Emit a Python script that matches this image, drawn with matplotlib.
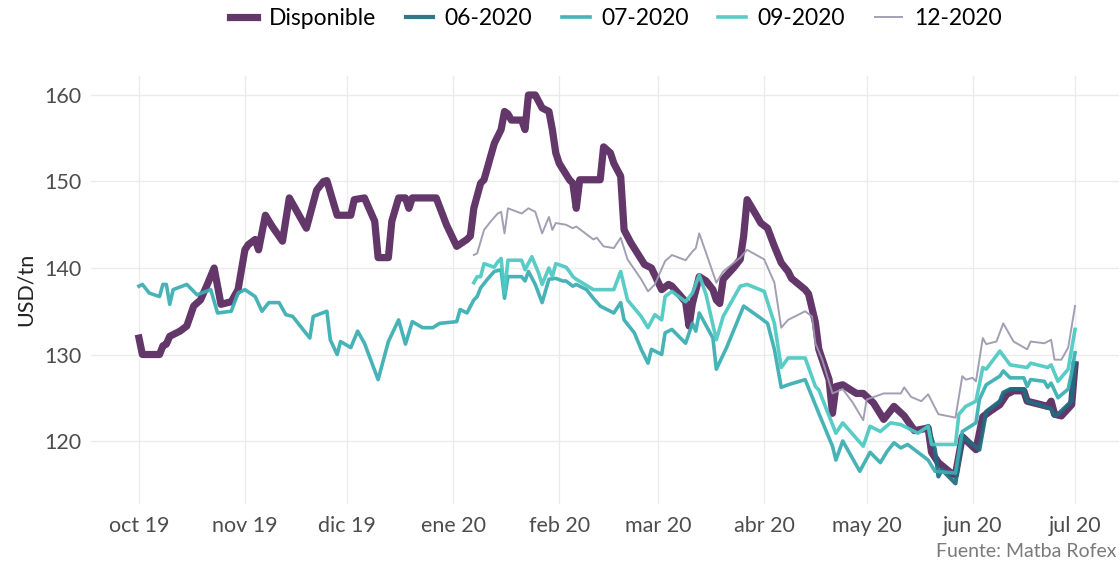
import pandas as pd
import matplotlib
matplotlib.use('Agg')
import matplotlib.pyplot as plt

# ---- datos (USD/tn) ----
disp_fechas = [
    "2019-10-01", "2019-10-02", "2019-10-07", "2019-10-08", "2019-10-09", "2019-10-10",
    "2019-10-13", "2019-10-15", "2019-10-17", "2019-10-19", "2019-10-21", "2019-10-23",
    "2019-10-25", "2019-10-28", "2019-10-30", "2019-11-01", "2019-11-02", "2019-11-04",
    "2019-11-05", "2019-11-07", "2019-11-09", "2019-11-12", "2019-11-14", "2019-11-19",
    "2019-11-22", "2019-11-24", "2019-11-25", "2019-11-28", "2019-12-02", "2019-12-03",
    "2019-12-06", "2019-12-09", "2019-12-10", "2019-12-13", "2019-12-14", "2019-12-16",
    "2019-12-18", "2019-12-19", "2019-12-20", "2019-12-27", "2019-12-30", "2020-01-02",
    "2020-01-05", "2020-01-06", "2020-01-07", "2020-01-09", "2020-01-10", "2020-01-13",
    "2020-01-15", "2020-01-16", "2020-01-17", "2020-01-18", "2020-01-21", "2020-01-22",
    "2020-01-23", "2020-01-25", "2020-01-27", "2020-01-29", "2020-01-30", "2020-01-31",
    "2020-02-01", "2020-02-04", "2020-02-05", "2020-02-06", "2020-02-07", "2020-02-13",
    "2020-02-14", "2020-02-16", "2020-02-17", "2020-02-19", "2020-02-20", "2020-02-22",
    "2020-02-26", "2020-02-28", "2020-03-02", "2020-03-04", "2020-03-05", "2020-03-09",
    "2020-03-10", "2020-03-11", "2020-03-13", "2020-03-15", "2020-03-17", "2020-03-18",
    "2020-03-19", "2020-03-20", "2020-03-23", "2020-03-25", "2020-03-26", "2020-03-27",
    "2020-03-30", "2020-03-31", "2020-04-02", "2020-04-04", "2020-04-06", "2020-04-08",
    "2020-04-09", "2020-04-13", "2020-04-14", "2020-04-16", "2020-04-17", "2020-04-20",
    "2020-04-21", "2020-04-22", "2020-04-24", "2020-04-28", "2020-04-30", "2020-05-03",
    "2020-05-06", "2020-05-09", "2020-05-12", "2020-05-15", "2020-05-19", "2020-05-20",
    "2020-05-22", "2020-05-26", "2020-05-27", "2020-05-29", "2020-06-02", "2020-06-04",
    "2020-06-06", "2020-06-09", "2020-06-11", "2020-06-13", "2020-06-16", "2020-06-17",
    "2020-06-19", "2020-06-23", "2020-06-24", "2020-06-25", "2020-06-27", "2020-06-30",
    "2020-07-01",
]
disp_valores = [
    131.9, 130.0, 130.0, 131.0, 131.2, 132.1,
    132.7, 133.3, 135.6, 136.3, 138.1, 140.0,
    135.8, 136.1, 137.5, 142.1, 142.7, 143.3,
    142.1, 146.1, 144.8, 143.1, 148.1, 144.6,
    149.0, 150.0, 150.1, 146.1, 146.1, 147.9,
    148.1, 145.4, 141.2, 141.2, 145.4, 148.1,
    148.1, 146.9, 148.1, 148.1, 145.0, 142.5,
    143.3, 143.7, 146.9, 149.8, 150.2, 154.4,
    156.0, 158.1, 157.8, 157.1, 157.1, 156.0,
    160.0, 160.0, 158.5, 158.1, 156.0, 153.3,
    152.1, 150.2, 149.8, 146.9, 150.2, 150.2,
    154.0, 153.3, 152.1, 150.6, 144.4, 142.9,
    140.4, 140.0, 137.5, 138.1, 137.9, 136.1,
    133.3, 135.9, 139.0, 138.5, 137.5, 136.3,
    135.9, 138.7, 140.0, 141.0, 143.7, 147.9,
    145.9, 145.2, 144.6, 142.5, 140.6, 139.6,
    138.8, 137.5, 137.0, 133.7, 130.6, 127.1,
    123.2, 126.3, 126.5, 125.5, 125.5, 124.4,
    122.5, 124.0, 122.9, 121.2, 121.5, 118.7,
    117.5, 116.2, 116.1, 120.5, 119.0, 122.8,
    123.4, 124.2, 125.4, 125.8, 125.8, 124.6,
    124.4, 124.0, 124.6, 123.1, 122.9, 124.2,
    128.8,
]

jun_fechas = [
    "2020-05-19", "2020-05-21", "2020-05-22", "2020-05-23", "2020-05-27", "2020-05-29",
    "2020-06-03", "2020-06-05", "2020-06-09", "2020-06-10", "2020-06-12", "2020-06-16",
    "2020-06-17", "2020-06-19", "2020-06-24", "2020-06-25", "2020-06-26", "2020-06-30",
    "2020-07-01",
]
jun_valores = [
    121.7, 119.0, 115.9, 116.7, 115.1, 120.5,
    119.0, 123.4, 124.6, 125.6, 126.0, 126.0,
    124.6, 124.4, 123.7, 122.9, 123.1, 124.6,
    129.0,
]

jul_fechas = [
    "2019-10-01", "2019-10-02", "2019-10-04", "2019-10-07", "2019-10-08", "2019-10-09",
    "2019-10-10", "2019-10-11", "2019-10-15", "2019-10-18", "2019-10-22", "2019-10-24",
    "2019-10-28", "2019-10-30", "2019-11-01", "2019-11-04", "2019-11-06", "2019-11-08",
    "2019-11-11", "2019-11-13", "2019-11-15", "2019-11-20", "2019-11-21", "2019-11-25",
    "2019-11-26", "2019-11-28", "2019-11-29", "2019-12-02", "2019-12-04", "2019-12-06",
    "2019-12-10", "2019-12-13", "2019-12-16", "2019-12-18", "2019-12-20", "2019-12-23",
    "2019-12-26", "2019-12-28", "2020-01-02", "2020-01-03", "2020-01-05", "2020-01-07",
    "2020-01-08", "2020-01-09", "2020-01-11", "2020-01-13", "2020-01-15", "2020-01-16",
    "2020-01-17", "2020-01-21", "2020-01-22", "2020-01-23", "2020-01-25", "2020-01-27",
    "2020-01-29", "2020-01-31", "2020-02-02", "2020-02-03", "2020-02-05", "2020-02-06",
    "2020-02-09", "2020-02-11", "2020-02-13", "2020-02-17", "2020-02-19", "2020-02-20",
    "2020-02-23", "2020-02-25", "2020-02-27", "2020-02-28", "2020-03-02", "2020-03-03",
    "2020-03-05", "2020-03-09", "2020-03-11", "2020-03-12", "2020-03-13", "2020-03-17",
    "2020-03-18", "2020-03-21", "2020-03-26", "2020-03-31", "2020-04-02", "2020-04-04",
    "2020-04-06", "2020-04-08", "2020-04-13", "2020-04-17", "2020-04-21", "2020-04-22",
    "2020-04-24", "2020-04-29", "2020-05-02", "2020-05-05", "2020-05-07", "2020-05-09",
    "2020-05-11", "2020-05-13", "2020-05-16", "2020-05-19", "2020-05-21", "2020-05-27",
    "2020-05-29", "2020-06-02", "2020-06-03", "2020-06-05", "2020-06-09", "2020-06-10",
    "2020-06-12", "2020-06-16", "2020-06-17", "2020-06-18", "2020-06-22", "2020-06-23",
    "2020-06-24", "2020-06-26", "2020-06-29", "2020-06-30", "2020-07-01",
]
jul_valores = [
    137.9, 138.1, 137.1, 136.7, 138.1, 138.1,
    135.8, 137.5, 138.1, 136.9, 137.5, 134.8,
    135.0, 137.1, 137.5, 136.7, 135.0, 136.0,
    136.0, 134.6, 134.4, 131.9, 134.4, 135.0,
    131.7, 130.0, 131.5, 130.8, 132.7, 131.3,
    127.1, 131.5, 134.0, 131.2, 133.8, 133.1,
    133.1, 133.6, 133.8, 135.2, 134.8, 136.3,
    136.7, 137.7, 138.7, 139.6, 139.8, 136.5,
    139.0, 139.0, 138.5, 139.6, 138.1, 136.0,
    138.7, 138.8, 138.5, 138.5, 137.9, 138.1,
    137.5, 136.5, 135.6, 134.8, 136.0, 134.0,
    132.5, 130.6, 129.0, 130.6, 130.0, 132.5,
    132.9, 131.3, 133.6, 132.7, 134.8, 131.9,
    128.3, 130.8, 135.6, 134.2, 133.6, 130.6,
    126.2, 126.5, 127.1, 123.2, 119.4, 117.8,
    120.0, 116.5, 118.7, 117.5, 118.8, 119.8,
    119.2, 119.6, 118.7, 117.8, 116.5, 116.3,
    121.1, 122.1, 124.8, 126.5, 127.5, 128.1,
    127.3, 127.3, 126.3, 127.1, 126.9, 126.2,
    126.7, 125.0, 126.0, 127.9, 130.2,
]

sep_fechas = [
    "2020-01-07", "2020-01-08", "2020-01-09", "2020-01-10", "2020-01-13", "2020-01-14",
    "2020-01-15", "2020-01-16", "2020-01-17", "2020-01-21", "2020-01-22", "2020-01-24",
    "2020-01-26", "2020-01-27", "2020-01-29", "2020-01-30", "2020-01-31", "2020-02-03",
    "2020-02-04", "2020-02-05", "2020-02-06", "2020-02-11", "2020-02-17", "2020-02-19",
    "2020-02-21", "2020-02-25", "2020-02-27", "2020-02-29", "2020-03-02", "2020-03-03",
    "2020-03-05", "2020-03-09", "2020-03-11", "2020-03-13", "2020-03-15", "2020-03-18",
    "2020-03-20", "2020-03-25", "2020-03-27", "2020-04-01", "2020-04-04", "2020-04-06",
    "2020-04-08", "2020-04-13", "2020-04-16", "2020-04-17", "2020-04-22", "2020-04-24",
    "2020-04-30", "2020-05-02", "2020-05-05", "2020-05-08", "2020-05-11", "2020-05-13",
    "2020-05-16", "2020-05-19", "2020-05-20", "2020-05-27", "2020-05-28", "2020-05-30",
    "2020-06-02", "2020-06-04", "2020-06-05", "2020-06-09", "2020-06-12", "2020-06-17",
    "2020-06-18", "2020-06-23", "2020-06-24", "2020-06-26", "2020-06-29", "2020-07-01",
]
sep_valores = [
    138.3, 139.0, 139.0, 140.5, 140.1, 140.7,
    141.1, 137.1, 140.9, 140.9, 139.8, 141.3,
    139.4, 138.1, 140.0, 139.0, 140.5, 140.1,
    139.6, 139.0, 138.7, 137.5, 137.5, 139.6,
    136.3, 134.4, 133.1, 134.6, 134.0, 136.7,
    137.3, 136.1, 137.1, 139.2, 136.9, 131.7,
    134.4, 137.9, 138.1, 137.3, 133.6, 128.5,
    129.6, 129.6, 126.3, 125.9, 120.9, 122.1,
    119.4, 121.7, 121.1, 122.1, 121.9, 121.5,
    120.9, 121.7, 119.6, 119.6, 123.1, 124.0,
    124.6, 128.5, 128.3, 130.4, 128.8, 128.5,
    129.0, 128.5, 128.8, 126.9, 128.3, 132.9,
]

dic_fechas = [
    "2020-01-07", "2020-01-08", "2020-01-10", "2020-01-12", "2020-01-14", "2020-01-15",
    "2020-01-16", "2020-01-17", "2020-01-21", "2020-01-23", "2020-01-25", "2020-01-27",
    "2020-01-29", "2020-01-30", "2020-01-31", "2020-02-03", "2020-02-05", "2020-02-06",
    "2020-02-11", "2020-02-12", "2020-02-14", "2020-02-17", "2020-02-19", "2020-02-21",
    "2020-02-25", "2020-02-27", "2020-02-29", "2020-03-03", "2020-03-05", "2020-03-09",
    "2020-03-11", "2020-03-12", "2020-03-13", "2020-03-16", "2020-03-18", "2020-03-20",
    "2020-03-25", "2020-03-27", "2020-04-01", "2020-04-04", "2020-04-06", "2020-04-08",
    "2020-04-13", "2020-04-15", "2020-04-16", "2020-04-18", "2020-04-21", "2020-04-24",
    "2020-04-27", "2020-04-30", "2020-05-01", "2020-05-06", "2020-05-11", "2020-05-12",
    "2020-05-14", "2020-05-17", "2020-05-19", "2020-05-22", "2020-05-27", "2020-05-29",
    "2020-05-30", "2020-06-01", "2020-06-02", "2020-06-04", "2020-06-05", "2020-06-08",
    "2020-06-10", "2020-06-13", "2020-06-17", "2020-06-18", "2020-06-22", "2020-06-24",
    "2020-06-25", "2020-06-27", "2020-06-29", "2020-07-01",
]
dic_valores = [
    141.5, 141.7, 144.4, 145.4, 146.3, 146.5,
    144.0, 146.9, 146.3, 146.9, 146.5, 144.0,
    145.9, 144.4, 145.2, 145.0, 144.6, 144.8,
    143.3, 143.5, 142.5, 142.3, 143.5, 141.0,
    138.7, 137.3, 138.1, 140.8, 141.5, 140.9,
    141.9, 142.3, 144.0, 140.6, 138.3, 139.6,
    141.2, 142.1, 141.0, 138.3, 133.1, 134.0,
    135.0, 134.4, 131.3, 129.4, 125.5, 126.0,
    124.4, 122.4, 124.8, 125.5, 125.5, 126.2,
    125.1, 124.6, 125.4, 123.1, 122.7, 127.5,
    127.1, 127.3, 126.9, 131.9, 131.2, 131.5,
    133.6, 131.5, 130.6, 131.5, 131.3, 131.7,
    129.4, 129.4, 130.8, 135.6,
]

series = [
    ("Disponible", disp_fechas, disp_valores, "#58285f", 5.2),
    ("06-2020", jun_fechas, jun_valores, "#216c80", 3.0),
    ("07-2020", jul_fechas, jul_valores, "#3aaeb2", 2.6),
    ("09-2020", sep_fechas, sep_valores, "#4cc8c2", 2.6),
    ("12-2020", dic_fechas, dic_valores, "#9c98ae", 1.4),
]

meses = pd.date_range("2019-10-01", "2020-07-01", freq="MS")
etiquetas_meses = ["oct 19", "nov 19", "dic 19", "ene 20", "feb 20",
                   "mar 20", "abr 20", "may 20", "jun 20", "jul 20"]

plt.rcParams['font.family'] = ['Lato', 'DejaVu Sans']

fig = plt.figure(figsize=(11.2, 5.67), dpi=100)
ax = fig.add_axes([0.0814, 0.1116, 0.9181, 0.7552])

for nombre, fechas, valores, color, lw in series:
    ax.plot(pd.to_datetime(fechas), valores, color=color, linewidth=lw,
            alpha=0.93, label=nombre, solid_joinstyle='round')

ax.set_xlim(pd.Timestamp("2019-09-17"), pd.Timestamp("2020-07-14"))
ax.set_ylim(112.75, 162.25)
ax.set_xticks(meses)
ax.set_xticklabels(etiquetas_meses)
ax.set_yticks([120, 130, 140, 150, 160])
ax.tick_params(length=0, labelsize=15.5, labelcolor='#4d4d4d')
ax.tick_params(axis='x', pad=9)
ax.tick_params(axis='y', pad=7)
ax.grid(True, color='#ebebeb', linewidth=1.0)
ax.set_axisbelow(True)
for s in ax.spines.values():
    s.set_visible(False)
ax.set_ylabel("USD/tn", fontsize=15.5, color='#222222', labelpad=6)

ax.legend(loc='upper center', bbox_to_anchor=(0.51, 1.18), ncol=5,
          frameon=False, fontsize=16.5, handlelength=1.2, columnspacing=1.3,
          handletextpad=0.5, borderaxespad=0)
fig.text(0.997, 0.012, "Fuente: Matba Rofex", ha='right', va='bottom',
         fontsize=14, color='#7a7a7a')

fig.savefig("out.png", dpi=100)
